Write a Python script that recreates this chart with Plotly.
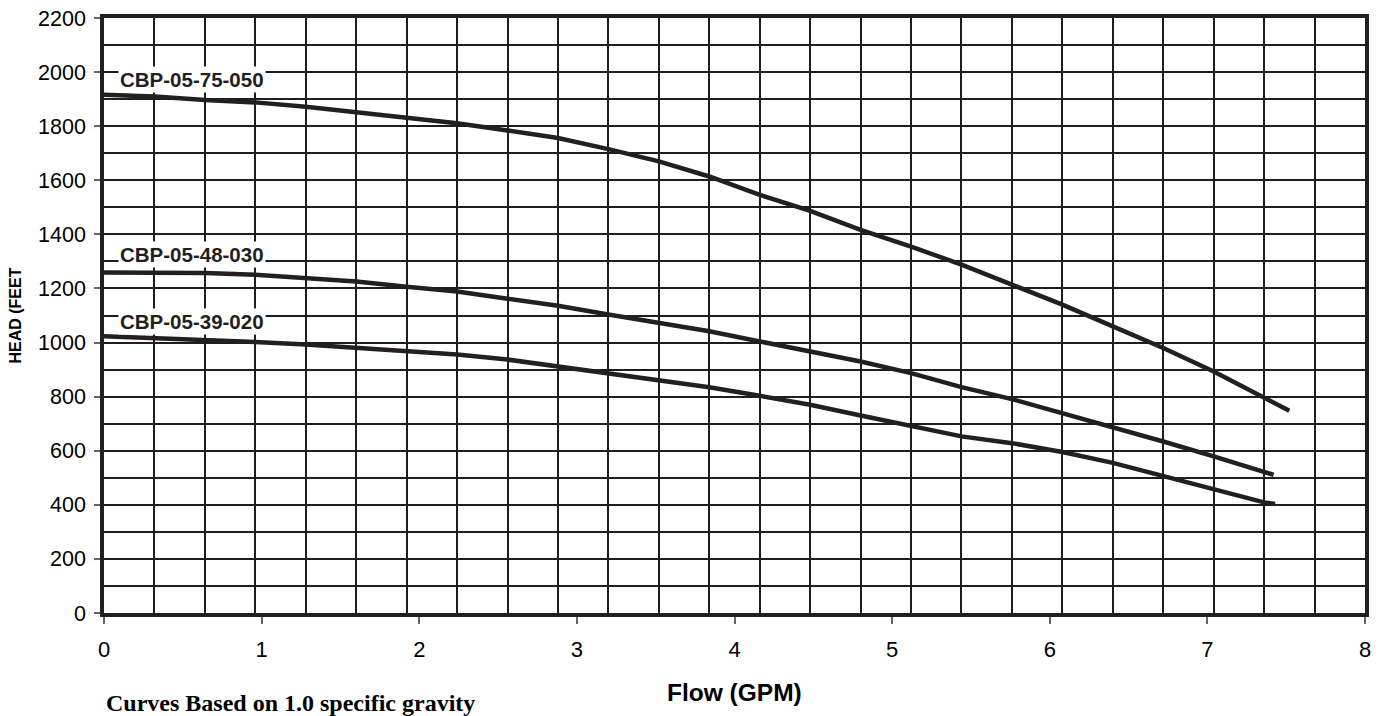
import plotly.graph_objects as go

# ---- data ----
flow_75 = [0, 0.32, 0.64, 0.96, 1.28, 1.60, 1.92, 2.24, 2.56, 2.88, 3.20, 3.52, 3.84,
           4.16, 4.48, 4.80, 5.12, 5.44, 5.76, 6.08, 6.40, 6.72, 7.04, 7.36, 7.52]
head_75 = [1916, 1910, 1897, 1888, 1872, 1852, 1834, 1811, 1784, 1756, 1715, 1670, 1614,
           1546, 1487, 1417, 1355, 1288, 1214, 1140, 1060, 980, 893, 795, 748]

flow_48 = [0, 0.32, 0.64, 0.96, 1.28, 1.60, 1.92, 2.24, 2.56, 2.88, 3.20, 3.52, 3.84,
           4.16, 4.48, 4.80, 5.12, 5.44, 5.76, 6.08, 6.40, 6.72, 7.04, 7.36, 7.42]
head_48 = [1259, 1259, 1257, 1251, 1240, 1226, 1206, 1189, 1162, 1136, 1104, 1072, 1042,
           1004, 967, 930, 887, 835, 791, 739, 690, 634, 579, 523, 511]

flow_39 = [0, 0.32, 0.64, 0.96, 1.28, 1.60, 1.92, 2.24, 2.56, 2.88, 3.20, 3.52, 3.84,
           4.16, 4.48, 4.80, 5.12, 5.44, 5.76, 6.08, 6.40, 6.72, 7.04, 7.36, 7.43]
head_39 = [1023, 1017, 1010, 1002, 993, 982, 969, 956, 937, 912, 887, 860, 835,
           803, 770, 730, 690, 653, 628, 595, 555, 505, 456, 409, 403]

series_names = ["CBP-05-75-050", "CBP-05-48-030", "CBP-05-39-020"]
label_heads = [1971, 1324, 1078]
label_flow = 0.087

x_ticks = [0, 1, 2, 3, 4, 5, 6, 7, 8]
y_ticks = [0, 200, 400, 600, 800, 1000, 1200, 1400, 1600, 1800, 2000, 2200]

x_title = "Flow (GPM)"
y_title = "HEAD (FEET"
footer = "Curves Based on 1.0 specific gravity"

# ---- figure ----
LINE = "#231f20"
GRID = "#1e1e1e"

fig = go.Figure()
for fx, hy, name in [(flow_75, head_75, series_names[0]),
                     (flow_48, head_48, series_names[1]),
                     (flow_39, head_39, series_names[2])]:
    fig.add_trace(go.Scatter(x=fx, y=hy, mode="lines", name=name,
                             line=dict(color=LINE, width=4.5),
                             showlegend=False, hoverinfo="x+y+name"))

for name, yv in zip(series_names, label_heads):
    fig.add_annotation(x=label_flow, y=yv, xref="x", yref="y", text="<b>" + name + "</b>",
                       showarrow=False, xanchor="left", yanchor="middle",
                       bgcolor="white", borderpad=1,
                       font=dict(family="Arial, Liberation Sans", size=20.5, color="#231f20"))

fig.add_annotation(x=0.5, y=-0.134, xref="paper", yref="paper", text="<b>" + x_title + "</b>",
                   showarrow=False, xanchor="center", yanchor="middle",
                   font=dict(family="Arial, Liberation Sans", size=24.5, color="black"))
fig.add_annotation(x=-0.0705, y=0.5, xref="paper", yref="paper", text="<b>" + y_title + "</b>",
                   showarrow=False, xanchor="center", yanchor="middle", textangle=-90,
                   font=dict(family="Arial, Liberation Sans", size=16, color="black"))
fig.add_annotation(x=0, y=-0.152, xref="paper", yref="paper", text="<b>" + footer + "</b>",
                   showarrow=False, xanchor="left", yanchor="middle",
                   font=dict(family="Times New Roman, Liberation Serif", size=24, color="black"))

fig.update_xaxes(range=[0, 8], tickvals=x_ticks, ticktext=[str(v) for v in x_ticks],
                 showgrid=False, zeroline=False,
                 ticks="outside", ticklen=7, tickwidth=1.5, tickcolor="#666",
                 ticklabelstandoff=7,
                 tickfont=dict(family="Arial, Liberation Sans", size=22, color="black"),
                 showline=True, linewidth=3.5, linecolor=LINE, mirror=True,
                 minor=dict(tick0=0, dtick=0.32, showgrid=True, gridcolor=GRID,
                            gridwidth=1.5, ticks=""),
                 automargin=False, fixedrange=True)
fig.update_yaxes(range=[0, 2200], tickvals=y_ticks, ticktext=[str(v) for v in y_ticks],
                 showgrid=True, gridcolor=GRID, gridwidth=1.5, zeroline=False,
                 ticks="outside", ticklen=6, tickwidth=1.5, tickcolor="#666",
                 ticklabelstandoff=4,
                 tickfont=dict(family="Arial, Liberation Sans", size=21.5, color="black"),
                 showline=True, linewidth=3.5, linecolor=LINE, mirror=True,
                 minor=dict(tick0=0, dtick=100, showgrid=True, gridcolor=GRID,
                            gridwidth=1.5, ticks=""),
                 automargin=False, fixedrange=True)

fig.update_layout(width=1381, height=716,
                  margin=dict(l=104, r=16, t=18, b=103, pad=0),
                  paper_bgcolor="white", plot_bgcolor="white",
                  showlegend=False)

fig.write_html("out.html",
               config={"displayModeBar": False},
               post_script="document.body.style.margin='0';"
                           "document.body.style.overflow='hidden';")
